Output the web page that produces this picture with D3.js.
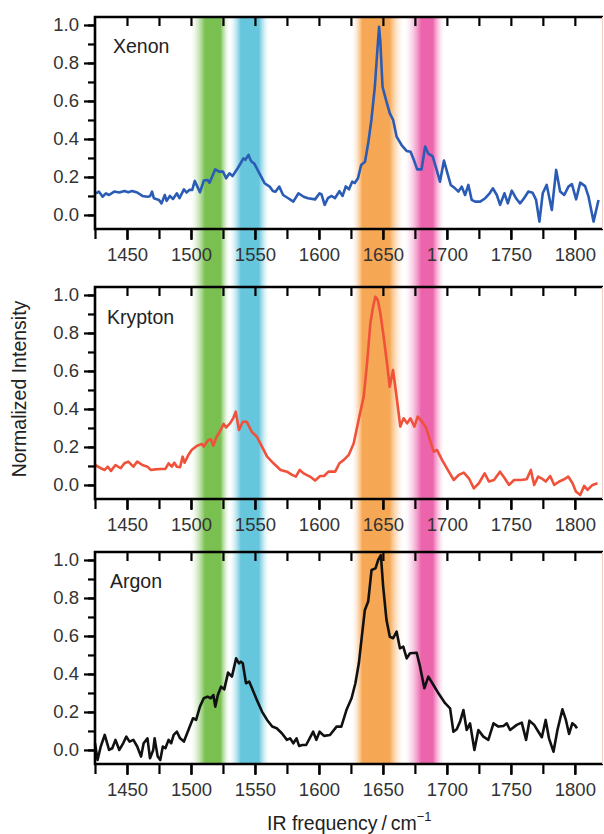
<!DOCTYPE html>
<html>
<head>
<meta charset="utf-8">
<script src="https://cdn.jsdelivr.net/npm/d3@7"></script>
<style>
  body { margin: 0; background: #fff; }
  svg { display: block; font-family: "Liberation Sans", Arial, sans-serif; }
  .tick text { fill: #333; font-size: 18.5px; }
  .label { fill: #222; font-size: 19.5px; }
</style>
</head>
<body>
<svg id="chart" width="604" height="834"></svg>
<script>
// spectra (frequency in cm-1, normalized intensity)
const xenonFreq = [1425.7,1428,1431,1433.5,1436,1440,1444,1448,1451,1454,1458,1462,1466,1468,1469.6,1471,1475,1477,1479.5,1481,1483.5,1486,1489,1491,1494.5,1496.5,1499,1501,1503,1505,1507,1510,1513,1514.5,1519,1522,1525,1527.5,1530,1532.5,1536,1538,1541,1542.5,1545,1546.5,1547.5,1549.5,1553.5,1557.5,1561.5,1564,1566,1569,1572,1576,1580,1584,1588,1591.5,1597,1600.5,1602,1604.5,1607,1610,1612.5,1616,1618.5,1621,1623.5,1626,1628,1630.5,1633,1636,1638.5,1641,1643.7,1645.5,1647,1648,1649.7,1652.8,1655.4,1658,1660.7,1664.6,1668.5,1671.6,1674.2,1676.8,1680.2,1683,1685.4,1688.8,1692,1694.6,1697.7,1700.4,1703,1706.4,1709,1711.6,1714.2,1716.8,1719.4,1722,1726,1730,1733.4,1736,1739,1741.6,1745,1747.6,1750.7,1754,1757.2,1760.3,1763.7,1767,1769.7,1772.3,1774.9,1778,1782,1785.4,1788.5,1791.7,1795,1797.7,1801,1804.2,1808,1810.7,1814.6,1818.5];
const xenonInt = [0.114,0.123,0.096,0.114,0.105,0.123,0.118,0.126,0.12,0.126,0.118,0.10,0.096,0.098,0.123,0.088,0.079,0.061,0.105,0.074,0.1,0.084,0.114,0.088,0.135,0.118,0.132,0.132,0.179,0.149,0.119,0.181,0.184,0.17,0.24,0.228,0.228,0.193,0.219,0.205,0.24,0.263,0.298,0.29,0.316,0.29,0.28,0.27,0.219,0.167,0.149,0.126,0.122,0.149,0.105,0.088,0.07,0.114,0.096,0.088,0.082,0.114,0.108,0.053,0.088,0.1,0.088,0.125,0.1,0.15,0.135,0.175,0.168,0.193,0.263,0.28,0.377,0.5,0.675,0.851,0.99,0.91,0.675,0.596,0.535,0.5,0.412,0.368,0.337,0.333,0.289,0.24,0.24,0.36,0.323,0.31,0.237,0.175,0.286,0.22,0.158,0.14,0.123,0.149,0.105,0.158,0.079,0.07,0.07,0.088,0.114,0.14,0.105,0.053,0.114,0.061,0.128,0.088,0.061,0.088,0.123,0.117,0.079,-0.035,0.114,0.158,0.026,0.237,0.123,0.105,0.149,0.162,0.082,0.17,0.152,0.096,-0.035,0.079];

const kryptonFreq = [1425,1429.5,1432.6,1435,1437.5,1441,1445,1448,1451,1455,1458,1462,1466,1468.5,1472,1476,1480,1482.5,1485,1487,1489,1491.5,1493.5,1495,1498,1500.5,1504.5,1508.5,1510,1513.5,1515.5,1517.5,1520,1522.5,1525.5,1527.5,1530.5,1533,1535,1537.5,1540.5,1543.5,1547.5,1551.5,1555.5,1559.5,1564.5,1570,1575,1579,1582,1585,1588,1593,1597,1601,1604,1607.5,1612.7,1616,1619.5,1623.3,1627.2,1631,1635,1637.6,1640.2,1642.3,1644.1,1646,1648,1650.6,1653.2,1655.3,1657.9,1661,1663.6,1666.2,1668.9,1671.5,1674.6,1677.2,1680.6,1684,1687.1,1689.7,1692.3,1696.2,1701.5,1705.4,1709.3,1713.2,1717.2,1721.1,1725,1729.5,1732.9,1736.8,1741.5,1745.2,1748.6,1752.5,1757.7,1762.4,1765.6,1768.2,1771.3,1773.9,1777.3,1780.7,1783.9,1787.8,1791.7,1794.8,1798.2,1800.8,1804.2,1807.3,1809.9,1813.8,1817.7];
const kryptonInt = [0.105,0.088,0.079,0.096,0.074,0.105,0.088,0.114,0.123,0.096,0.123,0.105,0.096,0.079,0.082,0.084,0.084,0.114,0.096,0.117,0.096,0.094,0.149,0.117,0.158,0.184,0.205,0.216,0.202,0.237,0.24,0.207,0.254,0.28,0.321,0.303,0.324,0.351,0.386,0.289,0.333,0.333,0.28,0.254,0.202,0.149,0.114,0.079,0.07,0.053,0.044,0.079,0.061,0.044,0.023,0.047,0.047,0.07,0.07,0.114,0.132,0.158,0.219,0.342,0.465,0.64,0.851,0.938,0.991,0.974,0.904,0.78,0.64,0.517,0.605,0.447,0.307,0.351,0.324,0.351,0.307,0.36,0.333,0.298,0.228,0.175,0.184,0.132,0.07,0.026,0.053,0.065,0.035,-0.018,0.009,0.061,0.018,0.026,0.07,0.035,0,0.026,0.026,0.03,0.079,0,0.044,0.035,0.018,0.047,0,0.018,0.03,0.044,0.009,-0.035,-0.053,-0.005,-0.026,0,0.009];

const argonFreq = [1425,1427,1429.5,1432.6,1436,1438.5,1441,1444,1447,1449.5,1452,1455,1458,1461,1463,1466,1468,1470.5,1471.6,1474,1476,1478,1480,1482.5,1484.5,1486.5,1489,1491.5,1494.5,1498,1501.6,1504,1507,1510,1513,1515.5,1517.5,1519,1521,1523.5,1526,1529,1532,1535.3,1537.5,1539,1540.5,1543,1545.5,1551.5,1555.5,1559.5,1563.5,1567,1571,1575,1577.5,1580,1582.5,1584.5,1587,1590,1595.5,1598,1600.5,1604,1608.6,1613.8,1617.5,1621.5,1625.5,1628.5,1631.2,1633.8,1635.9,1638.5,1641.1,1644.2,1646.3,1648.4,1650.2,1652.8,1655.4,1658,1660.7,1663.3,1665.9,1668.6,1671.2,1676.4,1679,1682.4,1685.5,1689.5,1693.4,1698.6,1702.5,1705.1,1707.7,1710.3,1712.9,1715.5,1718.1,1721.5,1724.6,1728.5,1732.4,1736.4,1740.3,1744.2,1746.8,1749.4,1754.6,1758.5,1761.9,1764.5,1768.2,1771.5,1774.2,1777.2,1779.8,1783.3,1786.4,1790.3,1793,1795.5,1798,1800,1801.7];
const argonInt = [0.035,-0.053,0.018,0.079,0,0.009,0.053,0,0.035,0.07,0.044,0.053,0.018,-0.035,0.035,0.061,-0.044,0,0.061,-0.035,-0.053,0.018,0.009,0.053,0.035,0.079,0.096,0.061,0.044,0.105,0.167,0.158,0.228,0.272,0.281,0.272,0.289,0.228,0.289,0.333,0.319,0.407,0.386,0.482,0.456,0.465,0.456,0.351,0.36,0.263,0.202,0.158,0.123,0.114,0.088,0.053,0.061,0.035,0.061,0.021,0.026,0.026,0.096,0.053,0.096,0.074,0.079,0.123,0.123,0.21,0.272,0.351,0.456,0.614,0.737,0.781,0.947,0.956,1.0,1.026,0.86,0.684,0.596,0.588,0.623,0.535,0.544,0.482,0.509,0.512,0.439,0.325,0.386,0.342,0.298,0.246,0.219,0.096,0.109,0.149,0.21,0.105,0.14,0,0.105,0.07,0.053,0.14,0.123,0.126,0.14,0.105,0.132,0.144,0.053,0.154,0.132,0.096,0.067,0.158,0.061,-0.009,0.105,0.214,0.158,0.084,0.14,0.13,0.114];

const panelNames = ['Xenon', 'Krypton', 'Argon'];
const panelFreq = [xenonFreq, kryptonFreq, argonFreq];
const panelInt = [xenonInt, kryptonInt, argonInt];

// highlighted bands: outer edges and fully-coloured core (cm-1)
const bandLo = [1500, 1530, 1626, 1667];
const bandCoreLo = [1511, 1539, 1634, 1680];
const bandCoreHi = [1523, 1553, 1655, 1689];
const bandHi = [1530, 1561, 1666, 1698];

const yTicks = [0, 0.2, 0.4, 0.6, 0.8, 1.0];
const xTicks = [1450, 1500, 1550, 1600, 1650, 1700, 1750, 1800];

const lineColors = ['#2a5bb5', '#f0513a', '#111'];
const bandColors = ['#72bd48', '#5ec3db', '#f6a34c', '#ea5ca8'];

const svg = d3.select('#chart');
const left = 95, right = 603;
const panelTop = [17, 287, 552];
const panelH = 212;

const x = d3.scaleLinear().domain([1425, 1822]).range([left, right]);

const defs = svg.append('defs');
bandLo.forEach((lo, i) => {
  const w = bandHi[i] - lo;
  const a = (bandCoreLo[i] - lo) / w;
  const b = (bandCoreHi[i] - lo) / w;
  const g = defs.append('linearGradient').attr('id', 'band' + i)
    .attr('x1', '0%').attr('x2', '100%').attr('y1', '0%').attr('y2', '0%');
  const stops = [];
  // soft fade in and out, solid core
  for (let k = 0; k <= 6; k++) stops.push([a * k / 6, Math.pow(k / 6, 1.6)]);
  stops.push([(a + b) / 2, 1]);
  for (let k = 0; k <= 6; k++) stops.push([b + (1 - b) * k / 6, Math.pow(1 - k / 6, 1.6)]);
  stops.forEach(s => g.append('stop')
    .attr('offset', (s[0] * 100) + '%')
    .attr('stop-color', bandColors[i])
    .attr('stop-opacity', s[1] * 0.95));
});

// bands run through all three panels
svg.append('g').selectAll('rect')
  .data(bandLo)
  .enter()
  .append('rect')
  .attr('x', (d) => x(d))
  .attr('width', (d, i) => x(bandHi[i]) - x(d))
  .attr('y', panelTop[0])
  .attr('height', panelTop[2] + panelH - panelTop[0])
  .attr('fill', (d, i) => `url(#band${i})`);

const plain = a => a.attr('font-family', null).attr('font-size', null).select('.domain').remove();

panelNames.forEach((name, p) => {
  const top = panelTop[p];
  const y = d3.scaleLinear().domain([-0.074, 1.042]).range([top + panelH, top]);
  const g = svg.append('g');

  const pts = panelFreq[p].map((f, i) => [f, panelInt[p][i]]);
  g.append('path')
    .datum(pts)
    .attr('fill', 'none')
    .attr('stroke', lineColors[p])
    .attr('stroke-width', 2.6)
    .attr('stroke-linejoin', 'round')
    .attr('d', d3.line().x(d => x(d[0])).y(d => y(d[1])));

  // minor y ticks
  g.append('g')
    .attr('transform', `translate(${left}, 0)`)
    .call(d3.axisLeft(y).tickValues(d3.range(0, 1.05, 0.1)).tickSize(7).tickFormat(''))
    .call(plain)
    .selectAll('line').attr('stroke', '#000').attr('stroke-width', 2.2);

  g.append('g')
    .attr('transform', `translate(${left}, 0)`)
    .call(d3.axisLeft(y).tickValues(yTicks).tickSize(11).tickPadding(5).tickFormat(d3.format('.1f')))
    .call(plain)
    .selectAll('line').attr('stroke', '#000').attr('stroke-width', 2.2);

  // bottom axis, outward ticks
  g.append('g')
    .attr('transform', `translate(0, ${top + panelH})`)
    .call(d3.axisBottom(x).tickValues(d3.range(1425, 1822, 25)).tickSize(10).tickFormat(''))
    .call(plain)
    .selectAll('line').attr('stroke', '#000').attr('stroke-width', 2.2);

  g.append('g')
    .attr('transform', `translate(0, ${top + panelH})`)
    .call(d3.axisBottom(x).tickValues(xTicks).tickSize(11).tickPadding(8).tickFormat(d3.format('d')))
    .call(plain)
    .selectAll('line').attr('stroke', '#000').attr('stroke-width', 2.2);

  // top axis, inward ticks
  g.append('g')
    .attr('transform', `translate(0, ${top})`)
    .call(d3.axisBottom(x).tickValues(d3.range(1450, 1822, 25)).tickSize(9).tickFormat(''))
    .call(plain)
    .selectAll('line').attr('stroke', '#000').attr('stroke-width', 2.2);

  // frame
  g.append('path')
    .attr('d', `M${right},${top}H${left}V${top + panelH}H${right}`)
    .attr('fill', 'none')
    .attr('stroke', '#000')
    .attr('stroke-width', 2.6);
  g.append('line')
    .attr('x1', right - 0.5).attr('x2', right - 0.5)
    .attr('y1', top).attr('y2', top + panelH)
    .attr('stroke', '#f2cfc6')
    .attr('stroke-width', 1);

  g.append('text')
    .attr('class', 'label')
    .attr('x', [113, 107, 110][p])
    .attr('y', top + [36, 37, 36][p])
    .text(name);
});

svg.append('text')
  .attr('class', 'label')
  .attr('transform', 'translate(26, 389) rotate(-90)')
  .attr('text-anchor', 'middle')
  .text('Normalized Intensity');

const xt = svg.append('text')
  .attr('class', 'label')
  .attr('x', 267)
  .attr('y', 830);
xt.append('tspan').text('IR frequency\u2009/\u2009cm');
xt.append('tspan').attr('dy', -9).style('font-size', '13px').text('\u22121');
</script>
</body>
</html>
